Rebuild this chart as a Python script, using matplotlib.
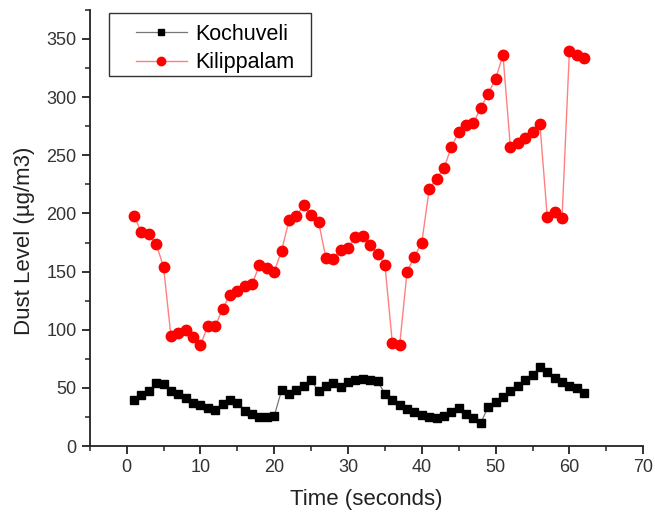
import matplotlib
matplotlib.use("Agg")
import matplotlib.pyplot as plt
from matplotlib.patches import Rectangle
from matplotlib.ticker import MultipleLocator

plt.rcParams["font.family"] = ["Liberation Sans", "DejaVu Sans"]

time_s = list(range(1, 63))

kochuveli = [40, 44, 47, 54, 53, 47, 45, 41, 37, 35,
             33, 31, 36, 40, 37, 30, 28, 25, 25, 26,
             48, 45, 48, 52, 57, 47, 52, 54, 51, 55,
             57, 58, 57, 56, 45, 40, 35, 32, 29, 27,
             25, 24, 26, 29, 33, 28, 24, 20, 34, 38,
             42, 47, 52, 57, 61, 68, 64, 59, 55, 52,
             50, 46]

kilippalam = [198, 184, 182, 174, 154, 95, 97, 100, 94, 87,
              103, 103, 118, 130, 133, 138, 139, 156, 153, 150,
              168, 194, 198, 207, 199, 193, 162, 161, 169, 170,
              180, 181, 173, 165, 156, 89, 87, 150, 163, 175,
              221, 230, 239, 257, 270, 276, 278, 291, 303, 316,
              336, 257, 261, 265, 270, 277, 197, 201, 196, 340,
              336, 334]

fig = plt.figure(figsize=(6.55, 5.2), dpi=100)
ax = fig.add_axes([0.137, 0.142, 0.845, 0.839])

ax.plot(time_s, kochuveli, color="#777777", linewidth=0.9,
        marker="s", markersize=6.2, markerfacecolor="black",
        markeredgecolor="black", label="Kochuveli")
ax.plot(time_s, kilippalam, color="#ff8080", linewidth=1.0,
        marker="o", markersize=7.5, markerfacecolor="red",
        markeredgecolor="red", label="Kilippalam")

ax.set_xlim(-5, 70)
ax.set_ylim(0, 375)
ax.xaxis.set_major_locator(MultipleLocator(10))
ax.xaxis.set_minor_locator(MultipleLocator(5))
ax.yaxis.set_major_locator(MultipleLocator(50))
ax.yaxis.set_minor_locator(MultipleLocator(25))

for side in ["top", "right"]:
    ax.spines[side].set_visible(False)
for side in ["left", "bottom"]:
    ax.spines[side].set_linewidth(1.3)
    ax.spines[side].set_color("#222222")

ax.tick_params(which="major", direction="out", length=6, width=1.3,
               labelsize=13, labelcolor="#333333", color="#222222")
ax.tick_params(which="minor", direction="out", length=3.5, width=1.1,
               color="#222222")

ax.set_xlabel("Time (seconds)", fontsize=16, color="#222222", labelpad=9)
ax.set_ylabel("Dust Level (µg/m3)", fontsize=16, color="#222222")
ax.yaxis.set_label_coords(-0.098, 0.47)

# legend text/handles, frame drawn separately (wider side padding than top/bottom)
leg = fig.legend(*ax.get_legend_handles_labels(), loc="upper left",
                 bbox_to_anchor=(136 / 655, 1 - 24 / 520), fontsize=15.5,
                 frameon=False, handlelength=2.35, markerscale=0.8,
                 borderpad=0, borderaxespad=0, labelspacing=0.33,
                 handletextpad=0.42)
fig.add_artist(Rectangle((109 / 655, 1 - 76 / 520), 202 / 655, 63 / 520,
                         transform=fig.transFigure, facecolor="none",
                         edgecolor="#333333", linewidth=1.0))

fig.savefig("out.png", dpi=100)
